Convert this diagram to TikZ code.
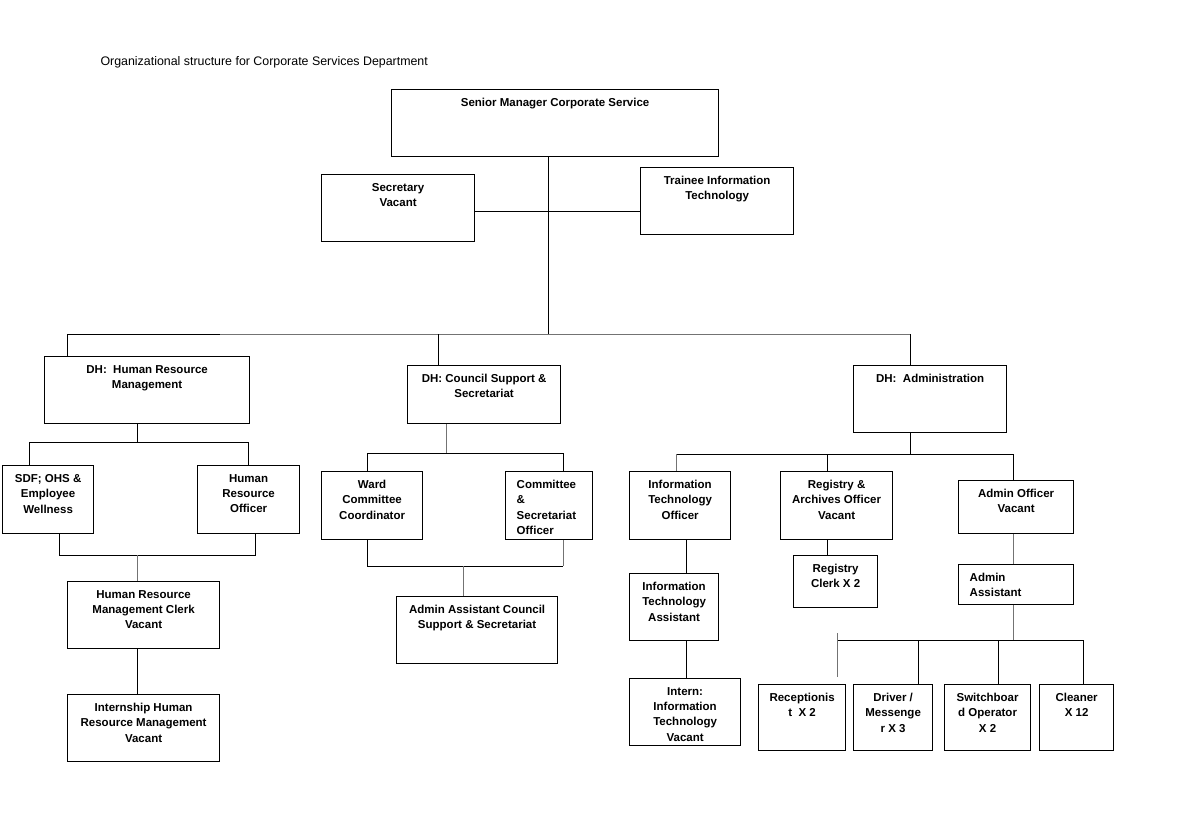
\documentclass[tikz,border=0pt]{standalone}
\usepackage{fontspec}
\setmainfont{Liberation Sans}
\usetikzlibrary{positioning}
\tikzset{
	box/.style={
		rectangle,
		draw=black,
		line width=1.2pt,
		anchor=north west,
		inner sep=0pt
	},
	boxtext/.style={
		anchor=north,
		inner sep=0pt,
		yshift=-9pt,
		align=center,
		font=\bfseries\fontsize{11.5}{15.4}\selectfont
	},
	boxtextL/.style={
		boxtext,
		anchor=north west,
		xshift=11.5pt,
		align=left
	},
	link/.style={
		draw=black,
		line width=1pt
	},
	linkG/.style={
		draw=black!55,
		line width=1pt
	}
}

\begin{document}
\begin{tikzpicture}[x=1pt,y=-1pt]
	\useasboundingbox (0,0) rectangle (1182,835);
	\node [anchor=base west,inner sep=0pt,font=\fontsize{12.4}{14}\selectfont] (title) at (100.3,65.5) {Organizational structure for Corporate Services Department};

	% top
	\node [box,minimum width=327pt,minimum height=67pt,label={[boxtext]north:Senior Manager Corporate Service}] (senior) at (391,89) {};
	\node [box,minimum width=153pt,minimum height=67pt,label={[boxtext]north:{Secretary\\Vacant}}] (secretary) at (321,174) {};
	\node [box,minimum width=153pt,minimum height=67pt,label={[boxtext]north:{Trainee Information\\Technology}}] (trainee) at (640,167) {};

	% heads
	\node [box,minimum width=205pt,minimum height=67pt,label={[boxtext]north:{DH:\ \ Human Resource\\Management}}] (dhhr) at (44,356) {};
	\node [box,minimum width=153pt,minimum height=58pt,label={[boxtext]north:{DH: Council Support \&\\Secretariat}}] (dhcouncil) at (407,365) {};
	\node [box,minimum width=153pt,minimum height=67pt,label={[boxtext]north:{DH:\ \ Administration}}] (dhadmin) at (853,365) {};

	% human resource
	\node [box,minimum width=91pt,minimum height=68pt,label={[boxtext]north:{SDF; OHS \&\\Employee\\Wellness}}] (sdf) at (2,465) {};
	\node [box,minimum width=102pt,minimum height=68pt,label={[boxtext]north:{Human\\Resource\\Officer}}] (hro) at (197,465) {};
	\node [box,minimum width=152pt,minimum height=67pt,label={[boxtext]north:{Human Resource\\Management Clerk\\Vacant}}] (hrclerk) at (67,581) {};
	\node [box,minimum width=152pt,minimum height=67pt,label={[boxtext]north:{Internship Human\\Resource Management\\Vacant}}] (hrintern) at (67,694) {};

	% council support
	\node [box,minimum width=101pt,minimum height=68pt,label={[boxtext]north:{Ward\\Committee\\Coordinator}}] (ward) at (321,471) {};
	\node [box,minimum width=87pt,minimum height=68pt,label={[boxtextL]north west:{Committee\\\&\\Secretariat\\Officer}}] (committee) at (505,471) {};
	\node [box,minimum width=161pt,minimum height=67pt,label={[boxtext]north:{Admin Assistant Council\\Support \& Secretariat}}] (adminasstcs) at (396,596) {};

	% administration
	\node [box,minimum width=101pt,minimum height=68pt,label={[boxtext]north:{Information\\Technology\\Officer}}] (itofficer) at (629,471) {};
	\node [box,minimum width=112pt,minimum height=68pt,label={[boxtext]north:{Registry \&\\Archives Officer\\Vacant}}] (registry) at (780,471) {};
	\node [box,minimum width=115pt,minimum height=53pt,label={[boxtext]north:{Admin Officer\\Vacant}}] (adminofficer) at (958,480) {};
	\node [box,minimum width=89pt,minimum height=67pt,label={[boxtext]north:{Information\\Technology\\Assistant}}] (itasst) at (629,573) {};
	\node [box,minimum width=111pt,minimum height=67pt,label={[boxtext]north:{Intern:\\Information\\Technology\\Vacant}}] (itintern) at (629,678) {};
	\node [box,minimum width=84pt,minimum height=52pt,label={[boxtext]north:{Registry\\Clerk X 2}}] (regclerk) at (793,555) {};
	\node [box,minimum width=115pt,minimum height=40pt,label={[boxtextL]north west:{Admin\\Assistant}}] (adminasst) at (958,564) {};
	\node [box,minimum width=87pt,minimum height=66pt,label={[boxtext]north:{Receptionis\\t\ \ X 2}}] (reception) at (758,684) {};
	\node [box,minimum width=79pt,minimum height=66pt,label={[boxtext]north:{Driver /\\Messenge\\r X 3}}] (driver) at (853,684) {};
	\node [box,minimum width=86pt,minimum height=66pt,label={[boxtext]north:{Switchboar\\d Operator\\X 2}}] (switchboard) at (944,684) {};
	\node [box,minimum width=74pt,minimum height=66pt,label={[boxtext]north:{Cleaner\\X 12}}] (cleaner) at (1039,684) {};

	% junctions
	\coordinate (sbus) at (548,334);
	\coordinate (secjoin) at (548,211);
	\coordinate (hrtop) at (67,334);
	\coordinate (busbreak) at (220,334);
	\coordinate (cstop) at (438,334);
	\coordinate (admtop) at (910,334);
	\coordinate (hrsplit) at (137,442);
	\coordinate (hrL) at (29,442);
	\coordinate (hrR) at (248,442);
	\coordinate (hrbL) at (59,555);
	\coordinate (hrbM) at (137,555);
	\coordinate (hrbR) at (255,555);
	\coordinate (cssplit) at (446,453);
	\coordinate (csL) at (367,453);
	\coordinate (csR) at (563,453);
	\coordinate (csbL) at (367,566);
	\coordinate (csbM) at (463,566);
	\coordinate (csbR) at (563,566);
	\coordinate (admsplit) at (910,454);
	\coordinate (admL) at (676,454);
	\coordinate (admM) at (827,454);
	\coordinate (admR) at (1013,454);
	\coordinate (itcol) at (686,560);
	\coordinate (staffL) at (837,640);
	\coordinate (staffD) at (918,640);
	\coordinate (staffM) at (1013,640);
	\coordinate (staffS) at (998,640);
	\coordinate (staffR) at (1083,640);
	\coordinate (stubtop) at (837,633);
	\coordinate (stubend) at (837,677);

	% connectors
	\draw[link] (sbus |- senior.south) -- (sbus);
	\draw[link] (secjoin -| secretary.east) -- (secjoin -| trainee.west);
	\draw[link] (hrtop |- dhhr.north) -- (hrtop) -- (busbreak);
	\draw[linkG] (busbreak) -- (admtop);
	\draw[link] (admtop) -- (admtop |- dhadmin.north);
	\draw[link] (cstop) -- (cstop |- dhcouncil.north);

	\draw[link] (dhhr.south -| hrsplit) -- (hrsplit);
	\draw[link] (hrL |- sdf.north) -- (hrL) -- (hrR) -- (hrR |- hro.north);
	\draw[link] (hrbL |- sdf.south) -- (hrbL) -- (hrbR) -- (hrbR |- hro.south);
	\draw[linkG] (hrbM) -- (hrbM |- hrclerk.north);
	\draw[link] (hrclerk.south -| hrbM) -- (hrbM |- hrintern.north);

	\draw[linkG] (dhcouncil.south -| cssplit) -- (cssplit);
	\draw[link] (csL |- ward.north) -- (csL) -- (csR) -- (csR |- committee.north);
	\draw[link] (csbL |- ward.south) -- (csbL) -- (csbR);
	\draw[linkG] (csbR) -- (csbR |- committee.south);
	\draw[linkG] (csbM) -- (csbM |- adminasstcs.north);

	\draw[link] (dhadmin.south -| admsplit) -- (admsplit);
	\draw[link] (admL) -- (admR) -- (admR |- adminofficer.north);
	\draw[linkG] (admL) -- (admL |- itofficer.north);
	\draw[link] (admM) -- (admM |- registry.north);
	\draw[link] (itofficer.south -| itcol) -- (itcol |- itasst.north);
	\draw[link] (itasst.south -| itcol) -- (itcol |- itintern.north);
	\draw[link] (registry.south -| admM) -- (admM |- regclerk.north);
	\draw[linkG] (adminofficer.south -| admR) -- (admR |- adminasst.north);
	\draw[linkG] (adminasst.south -| staffM) -- (staffM);
	\draw[link] (staffL) -- (staffR) -- (staffR |- cleaner.north);
	\draw[link] (staffD) -- (staffD |- driver.north);
	\draw[link] (staffS) -- (staffS |- switchboard.north);
	\draw[linkG] (stubtop) -- (stubend);
\end{tikzpicture}
\end{document}
